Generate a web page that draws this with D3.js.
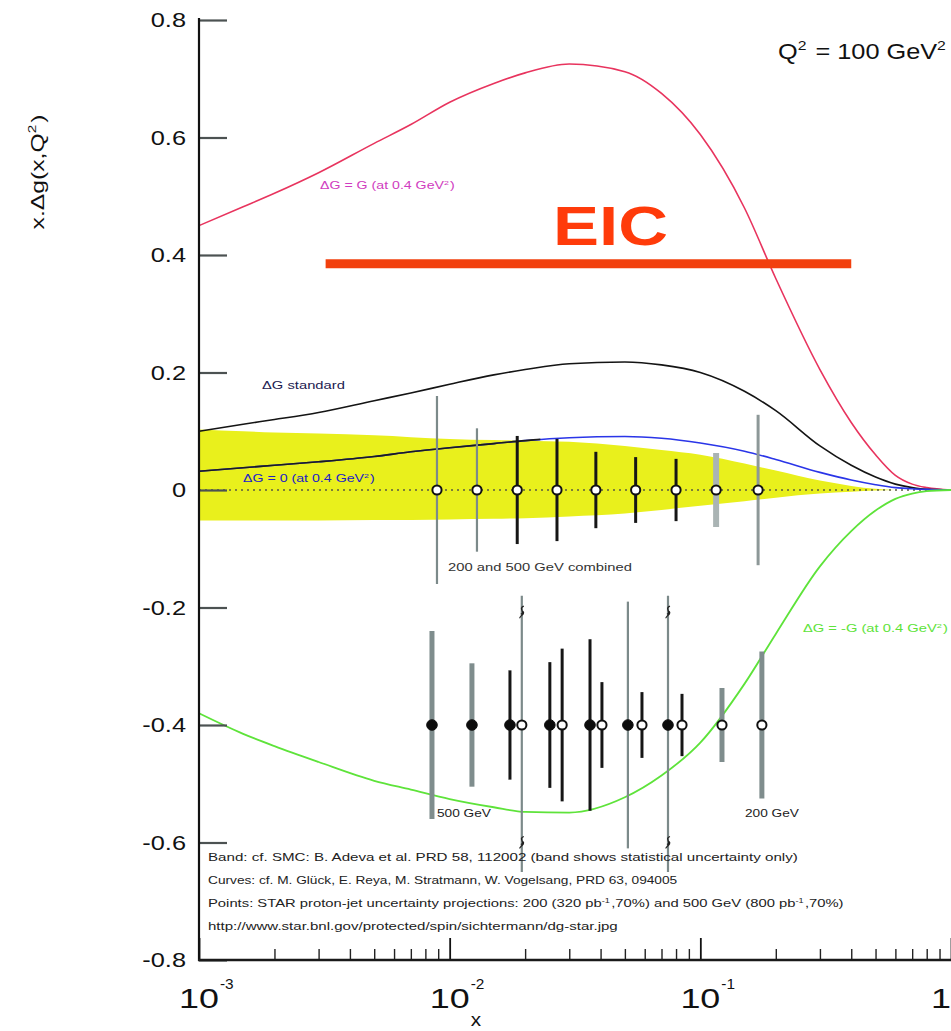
<!DOCTYPE html>
<html>
<head>
<meta charset="utf-8">
<script src="https://cdn.jsdelivr.net/npm/d3@7"></script>
<style>
  html, body { margin: 0; padding: 0; background: #fff; }
  svg { display: block; font-family: "Liberation Sans", Arial, Helvetica, sans-serif; }
</style>
</head>
<body>
<svg id="chart" width="951" height="1031"></svg>
<script>
// ---- x grid for the polarised gluon curves (Q^2 = 100 GeV^2) ----
const xGrid = [0.001, 0.0015, 0.002, 0.003, 0.005, 0.007, 0.01, 0.015, 0.02, 0.03, 0.05,
               0.07, 0.1, 0.15, 0.2, 0.3, 0.4, 0.5, 0.6, 0.7, 0.8, 1.0];

// x*Δg for the GRSV scenarios
const dgMaximal  = [0.45, 0.482, 0.505, 0.54, 0.59, 0.622, 0.66, 0.692, 0.71, 0.725, 0.712,
                    0.675, 0.605, 0.48, 0.36, 0.205, 0.115, 0.06, 0.025, 0.01, 0.004, 0];
const dgStandard = [0.1, 0.112, 0.12, 0.132, 0.152, 0.165, 0.18, 0.196, 0.205, 0.215, 0.218,
                    0.213, 0.2, 0.168, 0.135, 0.075, 0.042, 0.022, 0.01, 0.004, 0.001, 0];
const dgZero     = [0.032, 0.038, 0.042, 0.048, 0.057, 0.065, 0.072, 0.079, 0.084, 0.089, 0.091,
                    0.088, 0.08, 0.066, 0.052, 0.03, 0.017, 0.009, 0.004, 0.002, 0.001, 0];
const dgMinimal  = [-0.38, -0.415, -0.436, -0.463, -0.495, -0.51, -0.526, -0.54, -0.548, -0.549, -0.523,
                    -0.486, -0.43, -0.33, -0.245, -0.13, -0.07, -0.035, -0.015, -0.006, -0.002, 0];

// SMC statistical band
const bandHigh = [0.103, 0.1, 0.098, 0.096, 0.093, 0.09, 0.087, 0.085, 0.084, 0.082, 0.075,
                  0.068, 0.06, 0.045, 0.033, 0.016, 0.007, 0.002, 0, 0, 0, 0];
const bandLow  = [-0.052, -0.052, -0.052, -0.052, -0.051, -0.051, -0.05, -0.049, -0.048, -0.045, -0.04,
                  -0.034, -0.027, -0.019, -0.013, -0.006, -0.003, -0.001, 0, 0, 0, 0];

// STAR projections, 200 and 500 GeV combined
const combinedX     = [0.0089, 0.01285, 0.0186, 0.0268, 0.0383, 0.0552, 0.080, 0.1156, 0.170];
const combinedY     = [0, 0, 0, 0, 0, 0, 0, 0, 0];
const combinedErr   = [0.16, 0.105, 0.092, 0.087, 0.065, 0.056, 0.053, 0.063, 0.128];
const combinedKind  = ["fine", "fine", "jet", "jet", "jet", "jet", "jet", "pale", "mid"];

// STAR projections, 500 GeV (filled) and 200 GeV (open)
const gev500X    = [0.0085, 0.01227, 0.0174, 0.0251, 0.0363, 0.0514, 0.0743];
const gev500Y    = [-0.4, -0.4, -0.4, -0.4, -0.4, -0.4, -0.4];
const gev500Err  = [0.16, 0.105, 0.093, 0.107, 0.146, 0.21, 0.45];
const gev500Kind = ["wide", "wide", "jet", "jet", "jet", "fine", "fine"];

const gev200X    = [0.0194, 0.0281, 0.0405, 0.0585, 0.0845, 0.122, 0.176];
const gev200Y    = [-0.4, -0.4, -0.4, -0.4, -0.4, -0.4, -0.4];
const gev200Err  = [0.45, 0.13, 0.073, 0.056, 0.053, 0.063, 0.125];
const gev200Kind = ["fine", "jet", "jet", "jet", "jet", "wide", "wide"];

// window in which the lower error bars are shown (longer ones get break marks)
const lowerWindow = [-0.65, -0.18];

// EIC reach annotation
const eicRange = [0.0032, 0.4];
const eicLevel = 0.385;

// axis ticks
const yTicks = [-0.8, -0.6, -0.4, -0.2, 0, 0.2, 0.4, 0.6, 0.8];
const xMajor = [0.001, 0.01, 0.1, 1];
const xMajorLabels = [["10", "-3"], ["10", "-2"], ["10", "-1"], ["1", ""]];

// ------------------------------------------------------------------
const svg = d3.select("#chart");
const x = d3.scaleLog().domain([0.001, 1]).range([199, 951]);
const y = d3.scaleLinear().domain([-0.8, 0.8]).range([960, 20]);

const barStyle = {
  jet:  { color: "#161616", width: 3 },
  fine: { color: "#7c8a8a", width: 2.2 },
  wide: { color: "#7f8d8d", width: 5 },
  pale: { color: "#aab4b4", width: 6 },
  mid:  { color: "#8d9898", width: 3 }
};

// text helper: glyphs are stretched horizontally, either by a factor (sx)
// or to fill a given width (w)
function label(parent, px, py, parts, size, opt = {}) {
  const t = parent.append("text")
    .attr("font-size", size)
    .attr("text-anchor", opt.anchor || "start")
    .attr("fill", opt.fill || "#111")
    .attr("font-weight", opt.weight || "normal");
  parts.forEach(p => {
    if (typeof p === "string") { t.append("tspan").text(p); }
    else {
      t.append("tspan").attr("font-size", size * 0.62).attr("dy", -size * 0.42).text(p.sup);
      t.append("tspan").attr("dy", size * 0.42).text("\u200A");
    }
  });
  let sx = opt.sx || 1;
  if (opt.w) sx = opt.w / t.node().getComputedTextLength();
  t.attr("transform", `translate(${px},${py})` + (opt.rotate ? ` rotate(${opt.rotate})` : "") + ` scale(${sx},1)`);
  return t;
}

// ---- band ----
const rows = xGrid.map((v, i) => ({ x: v, hi: bandHigh[i], lo: bandLow[i] }));
svg.append("path")
  .datum(rows)
  .attr("fill", "#e9f01c")
  .attr("d", d3.area().x(d => x(d.x)).y0(d => y(d.lo)).y1(d => y(d.hi)).curve(d3.curveMonotoneX));

// ---- zero line ----
svg.append("line")
  .attr("x1", x(0.001)).attr("x2", x(1)).attr("y1", y(0)).attr("y2", y(0))
  .attr("stroke", "#5a5a40").attr("stroke-width", 1.6).attr("stroke-dasharray", "2,4");

// ---- curves ----
const line = d3.line().x(d => x(d[0])).y(d => y(d[1])).curve(d3.curveMonotoneX);
function curve(vals, color, w) {
  return svg.append("path")
    .datum(xGrid.map((v, i) => [v, vals[i]]))
    .attr("fill", "none").attr("stroke", color).attr("stroke-width", w)
    .attr("d", line);
}
curve(dgMaximal, "#e8345e", 1.6);
curve(dgStandard, "#141414", 1.6);
curve(dgZero, "#2a35e8", 1.6);
curve(dgMinimal, "#5ee33a", 1.8);

// low-x part of the ΔG=0 curve is drawn dark
svg.append("clipPath").attr("id", "lowx")
  .append("rect").attr("x", x(0.001)).attr("y", 0).attr("width", x(0.023) - x(0.001)).attr("height", 1031);
curve(dgZero, "#1c1c1c", 1.6).attr("clip-path", "url(#lowx)");

// ---- EIC reach ----
svg.append("line")
  .attr("x1", x(eicRange[0])).attr("x2", x(eicRange[1]))
  .attr("y1", y(eicLevel)).attr("y2", y(eicLevel))
  .attr("stroke", "#f2400e").attr("stroke-width", 9);
label(svg, 553, 245, ["EIC"], 56, { w: 115, weight: "bold", fill: "#ff3b0a" });

// ---- axes ----
const yAxis = d3.axisLeft(y).tickValues(yTicks).tickSizeInner(-28).tickSizeOuter(0).tickFormat("");
const gy = svg.append("g").attr("transform", "translate(199,0)").call(yAxis);
gy.select(".domain").remove();
gy.selectAll(".tick line").attr("stroke", "#4c5252").attr("stroke-width", 2.2);

const minors = [];
[0.001, 0.01, 0.1].forEach(d => { for (let k = 2; k <= 9; k++) minors.push(d * k); });
const gxm = svg.append("g").attr("transform", "translate(0,960)")
  .call(d3.axisBottom(x).tickValues(minors).tickSizeInner(-11).tickSizeOuter(0).tickFormat(""));
gxm.select(".domain").remove();
gxm.selectAll(".tick line").attr("stroke", "#222").attr("stroke-width", 1.4);
const gxM = svg.append("g").attr("transform", "translate(0,960)")
  .call(d3.axisBottom(x).tickValues(xMajor).tickSizeInner(-22).tickSizeOuter(0).tickFormat(""));
gxM.select(".domain").remove();
gxM.selectAll(".tick line").attr("stroke", "#111").attr("stroke-width", 1.8);

svg.append("line").attr("x1", 199).attr("x2", 199).attr("y1", 18).attr("y2", 961)
  .attr("stroke", "#111").attr("stroke-width", 2.2);
svg.append("line").attr("x1", 198).attr("x2", 951).attr("y1", 960).attr("y2", 960)
  .attr("stroke", "#1a1a1a").attr("stroke-width", 2.4);

yTicks.forEach(v => {
  const s = v === 0 ? "0" : String(+v.toFixed(1));
  label(svg, 186, y(v) + 7, [s], 19.5, { anchor: "end", sx: 1.3 });
});
xMajor.forEach((v, i) => {
  const [base, sup] = xMajorLabels[i];
  if (sup) {
    label(svg, x(v) + 20, 1008, [base], 27, { anchor: "end", sx: 1.33 });
    label(svg, x(v) + 21, 989, [sup], 14, { sx: 1.1 });
  } else {
    label(svg, x(v), 1008, [base], 27, { anchor: "end", sx: 1.33 });
  }
});
label(svg, 476, 1026, ["x"], 18, { anchor: "middle", sx: 1.15 });
label(svg, 44, 172, ["x.\u0394g(x,Q", { sup: "2" }, ")"], 19, { anchor: "middle", rotate: -90, w: 115 });

// ---- error bars and markers ----
function bars(xs, ys, errs, kinds, win) {
  xs.forEach((xv, i) => {
    const st = barStyle[kinds[i]];
    let lo = ys[i] - errs[i], hi = ys[i] + errs[i];
    let broken = false;
    if (win && (lo < win[0] || hi > win[1])) { lo = Math.max(lo, win[0]); hi = Math.min(hi, win[1]); broken = true; }
    svg.append("line")
      .attr("x1", x(xv)).attr("x2", x(xv)).attr("y1", y(lo)).attr("y2", y(hi))
      .attr("stroke", st.color).attr("stroke-width", st.width);
    if (broken) {
      [hi - 0.028, lo + 0.05].forEach(b => {
        const cx = x(xv), cy = y(b);
        svg.append("path")
          .attr("d", `M${cx + 2},${cy - 6} C${cx - 4},${cy - 4} ${cx + 4},${cy} ${cx - 1},${cy + 2} M${cx + 1},${cy - 1} C${cx + 4},${cy + 2} ${cx - 3},${cy + 4} ${cx - 2},${cy + 6}`)
          .attr("fill", "none").attr("stroke", "#222").attr("stroke-width", 1.3);
      });
    }
  });
}
function markers(xs, ys, filled) {
  svg.append("g").selectAll("circle").data(xs).join("circle")
    .attr("cx", d => x(d)).attr("cy", (d, i) => y(ys[i]))
    .attr("r", filled ? 5.3 : 4.6)
    .attr("fill", filled ? "#0c0c0c" : "#fff")
    .attr("stroke", "#111").attr("stroke-width", filled ? 1 : 2);
}

bars(combinedX, combinedY, combinedErr, combinedKind, null);
markers(combinedX, combinedY, false);
bars(gev500X, gev500Y, gev500Err, gev500Kind, lowerWindow);
bars(gev200X, gev200Y, gev200Err, gev200Kind, lowerWindow);
markers(gev500X, gev500Y, true);
markers(gev200X, gev200Y, false);

// ---- annotations ----
label(svg, 778, 59, ["Q", { sup: "2" }, " = 100 GeV", { sup: "2" }], 22, { w: 170 });
label(svg, 320, 189, ["\u0394G = G (at 0.4 GeV", { sup: "2" }, ")"], 10, { w: 135, fill: "#d03cc0" });
label(svg, 262, 389, ["\u0394G standard"], 10, { w: 83, fill: "#1c2050" });
label(svg, 243, 482, ["\u0394G = 0 (at 0.4 GeV", { sup: "2" }, ")"], 10, { w: 132, fill: "#2020c8" });
label(svg, 448, 571, ["200 and 500 GeV combined"], 10, { w: 184, fill: "#333" });
label(svg, 803, 632, ["\u0394G = -G (at 0.4 GeV", { sup: "2" }, ")"], 10, { w: 145, fill: "#5ee33a" });
label(svg, 437, 817, ["500 GeV"], 10, { w: 54, fill: "#222" });
label(svg, 745, 817, ["200 GeV"], 10, { w: 54, fill: "#222" });

const notes = [
  ["Band:    cf. SMC: B. Adeva et al. PRD 58, 112002 (band shows statistical uncertainty only)"],
  ["Curves: cf. M. Gl\u00fcck, E. Reya, M. Stratmann, W. Vogelsang, PRD 63, 094005"],
  ["Points: STAR proton-jet uncertainty projections: 200 (320 pb", { sup: "-1" }, ",70%) and 500 GeV (800 pb", { sup: "-1" }, ",70%)"],
  ["http://www.star.bnl.gov/protected/spin/sichtermann/dg-star.jpg"]
];
const noteWidths = [590, 470, 636, 410];
notes.forEach((n, i) => label(svg, 208, 861 + i * 23, n, 10.5, { w: noteWidths[i], fill: "#222" }));
</script>
</body>
</html>
